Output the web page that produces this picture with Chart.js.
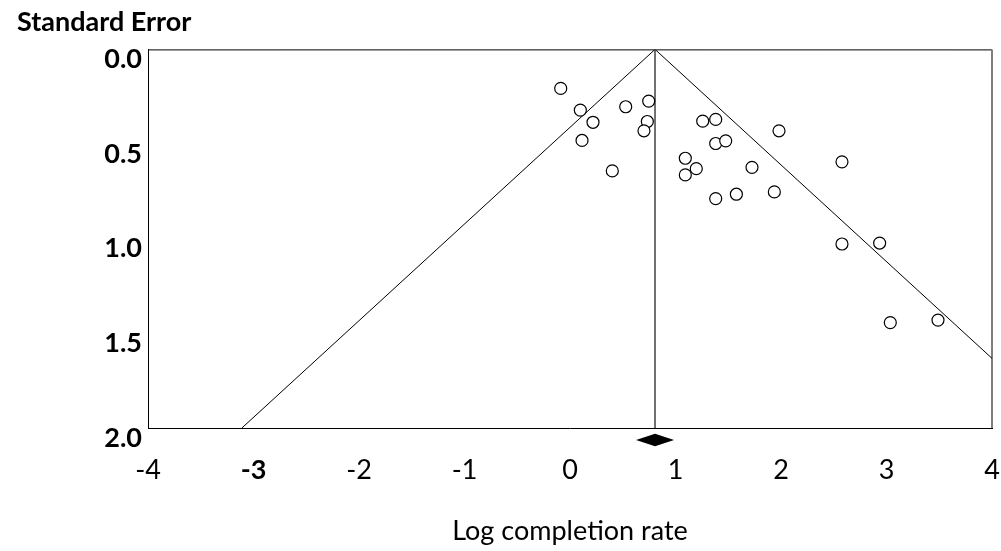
<!DOCTYPE html>
<html>
<head>
<meta charset="utf-8">
<script src="https://cdn.jsdelivr.net/npm/chart.js@4.4.1/dist/chart.umd.min.js"></script>
<style>
html,body{margin:0;padding:0;background:#fff;overflow:hidden;}
#wrap{width:1001px;height:551px;position:relative;}
canvas{display:block;}
</style>
</head>
<body>
<div id="wrap"><canvas id="c"></canvas></div>
<script>
// Study effects (log completion rate) and standard errors
const studyLogRate = [-0.088, 0.098, 0.218, 0.114, 0.528, 0.746, 0.733, 0.701, 0.401,
  1.258, 1.381, 1.381, 1.476, 1.093, 1.197, 1.093, 1.381, 1.577, 1.725, 1.937, 1.981,
  2.578, 2.578, 2.935, 3.036, 3.488];
const studySE = [0.206, 0.321, 0.385, 0.481, 0.303, 0.273, 0.381, 0.430, 0.642,
  0.379, 0.370, 0.497, 0.483, 0.575, 0.630, 0.663, 0.788, 0.765, 0.623, 0.753, 0.430,
  0.594, 1.028, 1.023, 1.443, 1.430];
// Pooled estimate and its CI (diamond)
const pooledEstimate = 0.806;
const pooledCI = [0.626, 0.986];
const diamondSE = [2.03, 2.063, 2.097];
// Funnel (pseudo 95% CI) line endpoints at SE = 2
const funnelSE = [0, 2];
const funnelLeftX = [0.806, -3.11];
const funnelRightX = [0.806, 4.72];
// Tick labels
const xTicks = [-4, -3, -2, -1, 0, 1, 2, 3, 4];
const yTicks = [0, 0.5, 1.0, 1.5, 2.0];

const FONT = "Lato, 'Open Sans', sans-serif";

const points = studyLogRate.map((x, i) => ({x: x, y: studySE[i]}));
const leftLine = funnelSE.map((s, i) => ({x: funnelLeftX[i], y: s}));
const rightLine = funnelSE.map((s, i) => ({x: funnelRightX[i], y: s}));
const centerLine = funnelSE.map(s => ({x: pooledEstimate, y: s}));

const framePlugin = {
  id: 'frame',
  beforeDatasetsDraw(chart) {
    const a = chart.chartArea, ctx = chart.ctx;
    ctx.save();
    ctx.strokeStyle = '#000';
    ctx.lineWidth = 1;
    ctx.beginPath();
    ctx.moveTo(a.left, a.top + 0.5);
    ctx.lineTo(a.right, a.top + 0.5);
    ctx.stroke();
    ctx.strokeStyle = '#7f7f7f';
    ctx.lineWidth = 2;
    ctx.beginPath();
    ctx.moveTo(a.right, a.top);
    ctx.lineTo(a.right, a.bottom);
    ctx.stroke();
    ctx.restore();
  },
  afterDatasetsDraw(chart) {
    const xs = chart.scales.x, ys = chart.scales.y, ctx = chart.ctx;
    const xl = xs.getPixelForValue(pooledCI[0]);
    const xr = xs.getPixelForValue(pooledCI[1]);
    const xc = xs.getPixelForValue(pooledEstimate);
    const yt = ys.getPixelForValue(diamondSE[0]);
    const ym = ys.getPixelForValue(diamondSE[1]);
    const yb = ys.getPixelForValue(diamondSE[2]);
    ctx.save();
    ctx.fillStyle = '#000';
    ctx.beginPath();
    ctx.moveTo(xl, ym);
    ctx.lineTo(xc, yt);
    ctx.lineTo(xr, ym);
    ctx.lineTo(xc, yb);
    ctx.closePath();
    ctx.fill();
    ctx.restore();
  }
};

new Chart(document.getElementById('c'), {
  type: 'scatter',
  data: {
    datasets: [
      {
        type: 'line', data: leftLine, borderColor: '#000', borderWidth: 1,
        pointRadius: 0, fill: false, order: 3
      },
      {
        type: 'line', data: rightLine, borderColor: '#000', borderWidth: 1,
        pointRadius: 0, fill: false, order: 3
      },
      {
        type: 'line', data: centerLine, borderColor: '#6f6f6f', borderWidth: 2,
        pointRadius: 0, fill: false, order: 3
      },
      {
        data: points, pointRadius: 6, pointBackgroundColor: '#fff',
        pointBorderColor: '#000', pointBorderWidth: 1.2, pointHoverRadius: 6, order: 1
      }
    ]
  },
  options: {
    responsive: true,
    maintainAspectRatio: false,
    animation: false,
    events: [],
    layout: { padding: { left: 17, right: 9, top: 0, bottom: 0 } },
    plugins: {
      legend: { display: false },
      tooltip: { enabled: false },
      title: {
        display: true, text: 'Standard Error', align: 'start', color: '#000',
        font: { family: FONT, size: 27, weight: 'bold' },
        padding: { top: 6, bottom: 11 }
      }
    },
    scales: {
      x: {
        type: 'linear', min: -4, max: 4,
        afterBuildTicks(scale) { scale.ticks = xTicks.map(v => ({value: v})); },
        afterFit(scale) { scale.height = 123; scale.paddingRight = 0; scale.paddingLeft = 0; },
        grid: { display: false, drawTicks: false },
        border: { display: true, color: '#000', width: 1 },
        ticks: {
          color: '#000', padding: 26,
          font: ctx => ({ family: FONT, size: 27, weight: ctx.tick && ctx.tick.value === -3 ? 'bold' : 'normal' }),
          callback: v => String(v)
        },
        title: {
          display: true, text: 'Log completion rate', color: '#000',
          font: { family: FONT, size: 27 }, padding: { top: 4, bottom: 4 }
        }
      },
      y: {
        type: 'linear', min: 0, max: 2, reverse: true,
        afterBuildTicks(scale) { scale.ticks = yTicks.map(v => ({value: v})); },
        afterFit(scale) { scale.width = 131; scale.paddingTop = 0; scale.paddingBottom = 0; },
        grid: { display: false, drawTicks: false },
        border: { display: true, color: '#000', width: 1 },
        ticks: {
          color: '#000', padding: 6, labelOffset: 10,
          font: { family: FONT, size: 27, weight: 'bold' },
          callback: v => Number(v).toFixed(1)
        }
      }
    }
  },
  plugins: [framePlugin]
});
</script>
</body>
</html>
